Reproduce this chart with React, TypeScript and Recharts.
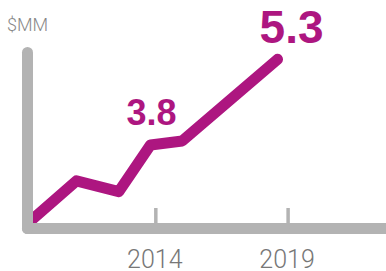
import { LineChart, Line, XAxis, YAxis, LabelList } from 'recharts'

const years = [2009.15, 2011, 2012.6, 2013.8, 2015, 2018.6]
const values = [2.42, 3.17, 2.98, 3.8, 3.87, 5.3]
const callouts = ['', '', '', '3.8', '', '5.3']
const yearTicks = [2014, 2019]
const unitLabel = '$MM'

const data = years.map((year, i) => ({ year, value: values[i], callout: callouts[i] }))

const GRAY = '#b3b3b3'
const MAGENTA = '#ad1680'

function YearTick({ x, y, payload }: { x?: number; y?: number; payload?: { value: number } }) {
  if (x == null || y == null || !payload) return null
  return (
    <g>
      <line x1={x} x2={x} y1={y - 20.5} y2={y} stroke={GRAY} strokeWidth={3.5} />
      <text x={x - 1} y={y + 39.5} textAnchor="middle" fill="#777" fontSize={25} fontWeight={300} fontFamily="Roboto, sans-serif">
        {payload.value}
      </text>
    </g>
  )
}

function Callout(props: { x?: number; y?: number; value?: string; index?: number }) {
  const { x, y, value } = props
  if (!value || x == null || y == null) return null
  const big = value === '5.3'
  return (
    <text
      x={x + (big ? 14 : 1)}
      y={y - (big ? 16.5 : 20)}
      textAnchor="middle"
      fill={MAGENTA}
      fontSize={big ? 46 : 36}
      fontWeight={700}
      fontFamily="'Liberation Sans', Arial, sans-serif"
    >
      {value}
    </text>
  )
}

export default function App() {
  return (
    <div style={{ position: 'relative', width: 386, height: 271 }}>
      <style>{'body{margin:0}'}</style>
      <div
        style={{
          position: 'absolute',
          left: 7,
          top: 15,
          fontFamily: 'Roboto, sans-serif',
          fontWeight: 300,
          fontSize: 18,
          color: '#888',
          lineHeight: '20px',
        }}
      >
        {unitLabel}
      </div>
      <LineChart width={386} height={271} data={data} margin={{ top: 52.5, right: 0, bottom: 0, left: 0 }}>
        <XAxis
          dataKey="year"
          type="number"
          domain={[2009.15, 2022.7]}
          ticks={yearTicks}
          allowDataOverflow
          height={42.5}
          tickSize={0}
          tickMargin={0}
          tickLine={false}
          tick={<YearTick />}
          axisLine={{ stroke: GRAY, strokeWidth: 11, strokeLinecap: 'round' }}
        />
        <YAxis
          type="number"
          domain={[2.335, 5.42]}
          allowDataOverflow
          width={27.5}
          tick={false}
          tickLine={false}
          axisLine={{ stroke: GRAY, strokeWidth: 11, strokeLinecap: 'round' }}
        />
        <Line
          type="linear"
          dataKey="value"
          stroke={MAGENTA}
          strokeWidth={11}
          strokeLinejoin="round"
          strokeLinecap="round"
          dot={false}
          activeDot={false}
          isAnimationActive={false}
        >
          <LabelList dataKey="callout" content={<Callout />} />
        </Line>
      </LineChart>
    </div>
  )
}
